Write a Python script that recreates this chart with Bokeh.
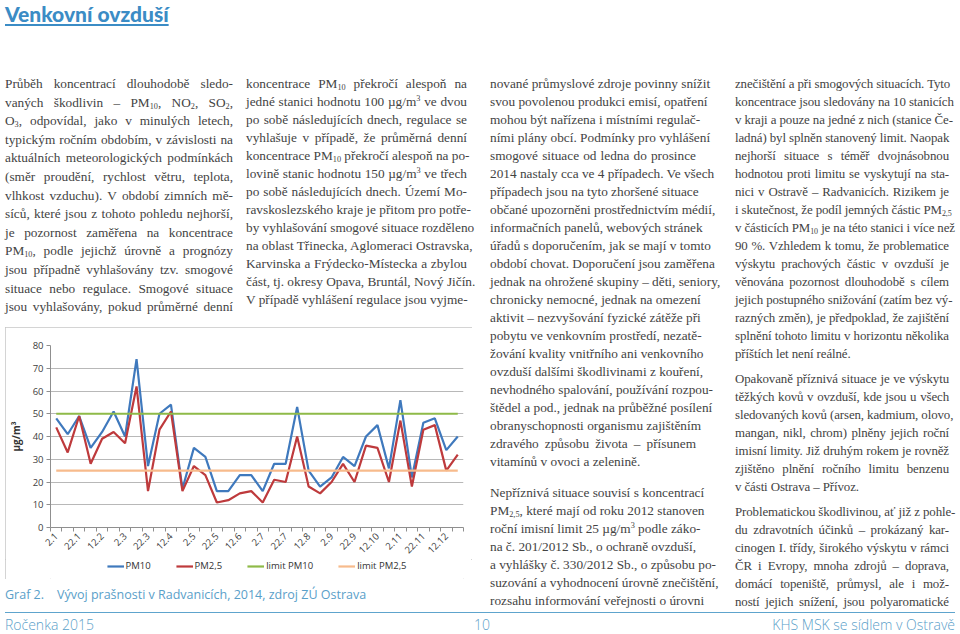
import math
from bokeh.plotting import figure
from bokeh.models import Div, Legend, LegendItem, Range1d, FixedTicker
from bokeh.layouts import column, row
from bokeh.embed import file_html
from bokeh.resources import INLINE

# ---------------- data ----------------
dates = ["2.1", "12.1", "22.1", "2.2", "12.2", "22.2", "2.3", "12.3", "22.3",
         "2.4", "12.4", "22.4", "2.5", "12.5", "22.5", "2.6", "12.6", "22.6",
         "2.7", "12.7", "22.7", "2.8", "12.8", "22.8", "2.9", "12.9", "22.9",
         "2.10", "12.10", "22.10", "2.11", "12.11", "22.11", "2.12", "12.12", "22.12"]
pm10 = [48, 41, 49, 35, 42, 51, 40, 74, 27, 50, 54, 17, 35, 31, 16, 16, 23, 23,
        16, 28, 28, 53, 25, 18, 22, 31, 27, 40, 45, 26, 56, 22, 46, 48, 34, 40]
pm25 = [44, 33, 49, 28, 39, 42, 37, 62, 16, 43, 51, 16, 27, 23, 11, 12, 15, 16,
        11, 21, 20, 40, 18, 15, 20, 28, 20, 36, 35, 20, 47, 18, 43, 45, 25, 32]
limit_pm10 = 50
limit_pm25 = 25
y_ticks = [0, 10, 20, 30, 40, 50, 60, 70, 80]
series_names = ["PM10", "PM2,5", "limit PM10", "limit PM2,5"]
series_colors = ["#3f79bd", "#be3a3c", "#8fba48", "#f7bb8c"]

title_text = "Venkovní ovzduší"
caption_num = "Graf 2."
caption_text = "Vývoj prašnosti v Radvanicích, 2014, zdroj ZÚ Ostrava"
footer_left = "Ročenka 2015"
footer_mid = "10"
footer_right = "KHS MSK se sídlem v Ostravě"

SUB = lambda s: f'<sub style="font-size:0.62em;line-height:0;vertical-align:-0.3em">{s}</sub>'
SUP = lambda s: f'<sup style="font-size:0.62em;line-height:0;vertical-align:0.55em">{s}</sup>'

col1 = [[
    "Průběh koncentrací dlouhodobě sledo-",
    f"vaných škodlivin – PM{SUB('10')}, NO{SUB('2')}, SO{SUB('2')},",
    f"O{SUB('3')}, odpovídal, jako v minulých letech,",
    "typickým ročním obdobím, v závislosti na",
    "aktuálních meteorologických podmínkách",
    "(směr proudění, rychlost větru, teplota,",
    "vlhkost vzduchu). V období zimních mě-",
    "síců, které jsou z tohoto pohledu nejhorší,",
    "je pozornost zaměřena na koncentrace",
    f"PM{SUB('10')}, podle jejichž úrovně a prognózy",
    "jsou případně vyhlašovány tzv. smogové",
    "situace nebo regulace. Smogové situace",
    "jsou vyhlašovány, pokud průměrné denní",
]]
col2 = [[
    f"koncentrace PM{SUB('10')} překročí alespoň na",
    f"jedné stanici hodnotu 100 µg/m{SUP('3')} ve dvou",
    "po sobě následujících dnech, regulace se",
    "vyhlašuje v případě, že průměrná denní",
    f"koncentrace PM{SUB('10')} překročí alespoň na po-",
    f"lovině stanic hodnotu 150 µg/m{SUP('3')} ve třech",
    "po sobě následujících dnech. Území Mo-",
    "ravskoslezského kraje je přitom pro potře-",
    "by vyhlašování smogové situace rozděleno",
    "na oblast Třinecka, Aglomeraci Ostravska,",
    "Karvinska a Frýdecko-Místecka a zbylou",
    "část, tj. okresy Opava, Bruntál, Nový Jičín.",
    "V případě vyhlášení regulace jsou vyjme-",
]]
col3 = [[
    "nované průmyslové zdroje povinny snížit",
    "svou povolenou produkci emisí, opatření",
    "mohou být nařízena i místními regulač-",
    "ními plány obcí. Podmínky pro vyhlášení",
    "smogové situace od ledna do prosince",
    "2014 nastaly cca ve 4 případech. Ve všech",
    "případech jsou na tyto zhoršené situace",
    "občané upozorněni prostřednictvím médií,",
    "informačních panelů, webových stránek",
    "úřadů s doporučením, jak se mají v tomto",
    "období chovat. Doporučení jsou zaměřena",
    "jednak na ohrožené skupiny – děti, seniory,",
    "chronicky nemocné, jednak na omezení",
    "aktivit – nezvyšování fyzické zátěže při",
    "pobytu ve venkovním prostředí, nezatě-",
    "žování kvality vnitřního ani venkovního",
    "ovzduší dalšími škodlivinami z kouření,",
    "nevhodného spalování, používání rozpou-",
    "štědel a pod., jednak na průběžné posílení",
    "obranyschopnosti organismu zajištěním",
    "zdravého způsobu života – přísunem",
    "vitamínů v ovoci a zelenině.",
], [
    "Nepříznivá situace souvisí s koncentrací",
    f"PM{SUB('2,5')}, které mají od roku 2012 stanoven",
    f"roční imisní limit 25 µg/m{SUP('3')} podle záko-",
    "na č. 201/2012 Sb., o ochraně ovzduší,",
    "a vyhlášky č. 330/2012 Sb., o způsobu po-",
    "suzování a vyhodnocení úrovně znečištění,",
    "rozsahu informování veřejnosti o úrovni",
]]
col4 = [[
    "znečištění a při smogových situacích. Tyto",
    "koncentrace jsou sledovány na 10 stanicích",
    "v kraji a pouze na jedné z nich (stanice Če-",
    "ladná) byl splněn stanovený limit. Naopak",
    "nejhorší situace s téměř dvojnásobnou",
    "hodnotou proti limitu se vyskytují na sta-",
    "nici v Ostravě – Radvanicích. Rizikem je",
    f"i skutečnost, že podíl jemných částic PM{SUB('2,5')}",
    f"v částicích PM{SUB('10')} je na této stanici i více než",
    "90 %. Vzhledem k tomu, že problematice",
    "výskytu prachových částic v ovzduší je",
    "věnována pozornost dlouhodobě s cílem",
    "jejich postupného snižování (zatím bez vý-",
    "razných změn), je předpoklad, že zajištění",
    "splnění tohoto limitu v horizontu několika",
    "příštích let není reálné.",
], [
    "Opakovaně příznivá situace je ve výskytu",
    "těžkých kovů v ovzduší, kde jsou u všech",
    "sledovaných kovů (arsen, kadmium, olovo,",
    "mangan, nikl, chrom) plněny jejich roční",
    "imisní limity. Již druhým rokem je rovněž",
    "zjištěno plnění ročního limitu benzenu",
    "v části Ostrava – Přívoz.",
], [
    "Problematickou škodlivinou, ať již z pohle-",
    "du zdravotních účinků – prokázaný kar-",
    "cinogen I. třídy, širokého výskytu v rámci",
    "ČR i Evropy, mnoha zdrojů – doprava,",
    "domácí topeniště, průmysl, ale i mož-",
    "ností jejich snížení, jsou polyaromatické",
]]

BODY_FONT = "'Liberation Serif', serif"
BODY_COLOR = "#434343"
ACCENT = "#5aa0c9"


def col_html(paras, last_open, text_w, pad_l, pad_t, lh, gap, fs=13.3, ls=0):
    out = [f'<div style="padding-left:{pad_l}px;padding-top:{pad_t}px;width:{text_w}px;'
           f'font-family:{BODY_FONT};font-size:{fs}px;letter-spacing:{ls}px;color:{BODY_COLOR};line-height:{lh}px;">']
    for pi, lines in enumerate(paras):
        for li, line in enumerate(lines):
            is_last = li == len(lines) - 1 and not (pi == len(paras) - 1 and last_open)
            align = "left" if is_last else "justify"
            mt = gap if (li == 0 and pi > 0) else 0
            out.append(f'<div style="white-space:nowrap;text-align:justify;text-align-last:{align};'
                       f'height:{lh}px;margin-top:{mt}px">{line}</div>')
    out.append('</div>')
    return "".join(out)


TOP_H = 258
RIGHT_H = 536
Z = dict(margin=0)

d_col1 = Div(text=col_html(col1, True, 228, 0, 6, 18.6, 0), width=236, height=TOP_H, **Z)
d_col2 = Div(text=col_html(col2, True, 226, 5, 6, 18, 0), width=231, height=TOP_H, **Z)
d_col3 = Div(text=col_html(col3, True, 224, 18, 6, 18, 13), width=258, height=RIGHT_H, **Z)
d_col4 = Div(text=col_html(col4, True, 219, 5, 6, 18, 7, fs=12.9, ls=-0.1), width=225, height=RIGHT_H, **Z)

header = Div(text=f'<div style="font-family:Lato, sans-serif;font-weight:900;font-size:21px;'
                  f'color:#3b8cc5;line-height:22px;margin-top:0px;text-decoration:underline;'
                  f'text-decoration-thickness:2px;text-underline-offset:2px;">{title_text}</div>',
             width=950, height=66, **Z)

caption = Div(text=f'<div style="padding-top:7px;font-family:\'Open Sans\', sans-serif;font-size:12.5px;'
                   f'color:{ACCENT};line-height:17px;white-space:nowrap">'
                   f'<span style="display:inline-block;width:52px">{caption_num}</span>{caption_text}</div>',
              width=467, height=26, **Z)

footer = Div(text=f'<div style="position:relative;width:950px;height:26px;font-family:\'Open Sans\', sans-serif;'
                  f'font-size:14px;font-weight:300;color:{ACCENT};">'
                  f'<div style="position:absolute;left:0;top:7px;width:950px;height:0;border-top:1.5px solid #5ea4cd"></div>'
                  f'<div style="position:absolute;left:0;top:10px;line-height:19px">{footer_left}</div>'
                  f'<div style="position:absolute;left:469px;top:10px;line-height:19px">{footer_mid}</div>'
                  f'<div style="position:absolute;right:0;top:10px;line-height:19px">{footer_right}</div>'
                  f'</div>',
             width=950, height=26, **Z)

# ---------------- chart ----------------
x_pos = [i + 0.5 for i in range(len(dates))]          # category centres
x_bounds = list(range(len(dates) + 1))                 # category boundaries (tick marks)

p = figure(x_range=Range1d(0, len(dates)), y_range=Range1d(0, 80),
           width=467, height=232, output_backend="svg", toolbar_location=None,
           min_border_left=38, min_border_right=9, min_border_top=18, min_border_bottom=32,
           margin=0)
p.outline_line_color = None
p.background_fill_color = "white"
p.border_fill_color = "white"

r1 = p.line(x_pos, pm10, line_color=series_colors[0], line_width=2.2)
r2 = p.line(x_pos, pm25, line_color=series_colors[1], line_width=2.2)
r3 = p.line(x_pos, [limit_pm10] * len(dates), line_color=series_colors[2], line_width=2.2)
r4 = p.line(x_pos, [limit_pm25] * len(dates), line_color=series_colors[3], line_width=2.2)

p.xgrid.visible = False
p.ygrid.grid_line_color = "#b8b8b8"
p.ygrid.grid_line_width = 1

p.yaxis.ticker = FixedTicker(ticks=y_ticks)
p.yaxis.axis_label = "µg/m³"
p.yaxis.axis_label_text_font = "Open Sans"
p.yaxis.axis_label_text_font_style = "bold"
p.yaxis.axis_label_text_font_size = "10px"
p.yaxis.axis_label_text_color = "#333333"
p.yaxis.axis_label_standoff = 7
p.yaxis.minor_tick_line_color = None

p.xaxis.ticker = FixedTicker(ticks=x_pos[::2], minor_ticks=x_bounds)
p.xaxis.major_label_overrides = {x: d for x, d in zip(x_pos[::2], dates[::2])}
p.xaxis.major_label_orientation = math.pi / 4
p.xaxis.minor_tick_line_color = "#8f8f8f"
p.xaxis.minor_tick_out = 4
p.xaxis.minor_tick_in = 0

for ax in (p.xaxis[0], p.yaxis[0]):
    ax.axis_line_color = "#8f8f8f"
    ax.major_tick_line_color = "#8f8f8f"
    ax.major_tick_out = 4
    ax.major_tick_in = 0
    ax.major_label_text_font = "Open Sans"
    ax.major_label_text_font_size = "9.5px"
    ax.major_label_text_color = "#404040"
    ax.major_label_standoff = 3
p.xaxis.major_tick_line_color = None

# legend strip below the chart (its series lie outside its visible y-range)
lg = figure(width=467, height=20, output_backend="svg", toolbar_location=None,
            min_border_left=38, min_border_right=9, min_border_top=0, min_border_bottom=0,
            x_range=p.x_range, y_range=Range1d(1000, 1001), margin=0)
lg.axis.visible = False
lg.grid.visible = False
lg.outline_line_color = None
lg.border_fill_color = "white"
lg.background_fill_color = "white"
lg_series = [pm10, pm25, [limit_pm10] * len(dates), [limit_pm25] * len(dates)]
lg_renderers = [lg.line(x_pos, s, line_color=c, line_width=2.2) for s, c in zip(lg_series, series_colors)]
legend = Legend(items=[LegendItem(label=n, renderers=[r]) for n, r in zip(series_names, lg_renderers)],
                orientation="horizontal", location="top", border_line_color=None,
                background_fill_alpha=0, label_text_font="Open Sans", label_text_font_size="9.5px",
                label_text_color="#333333", glyph_width=17, glyph_height=10, label_height=10,
                label_standoff=2, spacing=25, padding=2, margin=0)
lg.add_layout(legend, "center")

chart_box = column(p, lg, margin=0, styles={"outline": "1px solid #c6c6c6", "outline-offset": "-1px"})

left_block = column(row(d_col1, d_col2, margin=0), chart_box, caption, margin=0)
body = row(left_block, d_col3, d_col4, margin=0)
root = column(header, body, footer, margin=0)
root.styles = {"margin-left": "5px", "margin-top": "3px"}

open("out.html", "w").write(file_html(root, INLINE))
